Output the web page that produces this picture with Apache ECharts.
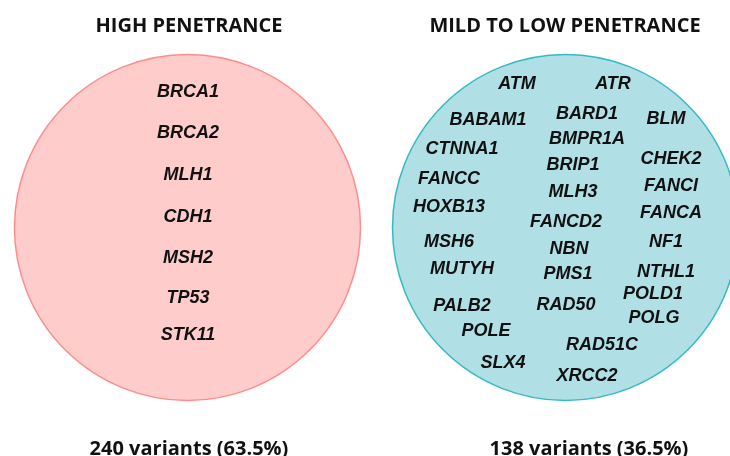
<!DOCTYPE html>
<html>
<head>
<meta charset="utf-8">
<script src="https://cdn.jsdelivr.net/npm/echarts@6/dist/echarts.min.js"></script>
<style>
html,body{margin:0;padding:0;background:#fff;}
#main{width:730px;height:456px;}
</style>
</head>
<body>
<div id="main"></div>
<script>
// groups
var groupNames = ['HIGH PENETRANCE', 'MILD TO LOW PENETRANCE'];
var variantCounts = [240, 138];
var variantPct = [63.5, 36.5];

// genes in each circle, with their place
var highGenes = ['BRCA1', 'BRCA2', 'MLH1', 'CDH1', 'MSH2', 'TP53', 'STK11'];
var highX = [188, 188, 188, 188, 188, 188, 188];
var highY = [92, 133, 175, 217, 258, 298, 335];

var lowGenes = ['ATM', 'ATR', 'BABAM1', 'BARD1', 'BLM', 'BMPR1A', 'CTNNA1', 'BRIP1', 'CHEK2',
	'FANCC', 'MLH3', 'FANCI', 'HOXB13', 'FANCD2', 'FANCA', 'MSH6', 'NF1', 'NBN', 'MUTYH',
	'NTHL1', 'PMS1', 'POLD1', 'PALB2', 'RAD50', 'POLG', 'POLE', 'RAD51C', 'SLX4', 'XRCC2'];
var lowX = [517, 613, 488, 587, 666, 587, 462, 573, 671,
	449, 573, 671, 449, 566, 671, 449, 666, 569, 462,
	666, 568, 653, 462, 566, 654, 486, 602, 503, 587];
var lowY = [84, 84, 120, 114, 119, 139, 149, 165, 159,
	179, 192, 186, 207, 222, 213, 242, 242, 249, 269,
	272, 274, 294, 306, 305, 318, 331, 345, 363, 376];

var circleCenter = [[187.5, 227.5], [565.5, 227.5]];
var circleFill = ['#ffcccc', '#b0e0e6'];
var circleBorder = ['#ff8c8c', '#35bac4'];

function genePoints(names, xs, ys) {
	var out = [];
	for (var i = 0; i < names.length; i++) {
		out.push({name: names[i], value: [xs[i], ys[i]]});
	}
	return out;
}

var geneLabel = {
	show: true,
	position: 'inside',
	formatter: '{b}',
	color: '#111',
	fontFamily: "'Liberation Sans', Arial, sans-serif",
	fontWeight: 'bold',
	fontStyle: 'italic',
	fontSize: 18
};

var titleStyle = {fontFamily: "'Open Sans'", fontWeight: 'bold', fontSize: 20, color: '#111'};

var option = {
	animation: false,
	title: [
		{text: groupNames[0], left: 184, top: 11, textAlign: 'center', textStyle: titleStyle},
		{text: groupNames[1], left: 560, top: 11, textAlign: 'center', textStyle: titleStyle},
		{text: variantCounts[0] + ' variants (' + variantPct[0] + '%)', left: 184, top: 434, textAlign: 'center', textStyle: titleStyle},
		{text: variantCounts[1] + ' variants (' + variantPct[1] + '%)', left: 584, top: 434, textAlign: 'center', textStyle: titleStyle}
	],
	grid: {left: 0, right: 0, top: 0, bottom: 0},
	xAxis: {type: 'value', min: 0, max: 730, show: false},
	yAxis: {type: 'value', min: 0, max: 456, inverse: true, show: false},
	series: [
		{
			type: 'scatter',
			silent: true,
			symbolSize: 346,
			data: [
				{value: circleCenter[0], itemStyle: {color: circleFill[0], borderColor: circleBorder[0], borderWidth: 1.5, opacity: 1}},
				{value: circleCenter[1], itemStyle: {color: circleFill[1], borderColor: circleBorder[1], borderWidth: 1.5, opacity: 1}}
			]
		},
		{
			type: 'scatter',
			silent: true,
			symbolSize: 0,
			itemStyle: {opacity: 1},
			label: geneLabel,
			data: genePoints(highGenes, highX, highY)
		},
		{
			type: 'scatter',
			silent: true,
			symbolSize: 0,
			itemStyle: {opacity: 1},
			label: geneLabel,
			data: genePoints(lowGenes, lowX, lowY)
		}
	]
};

var chart = echarts.init(document.getElementById('main'));
chart.setOption(option);
</script>
</body>
</html>
